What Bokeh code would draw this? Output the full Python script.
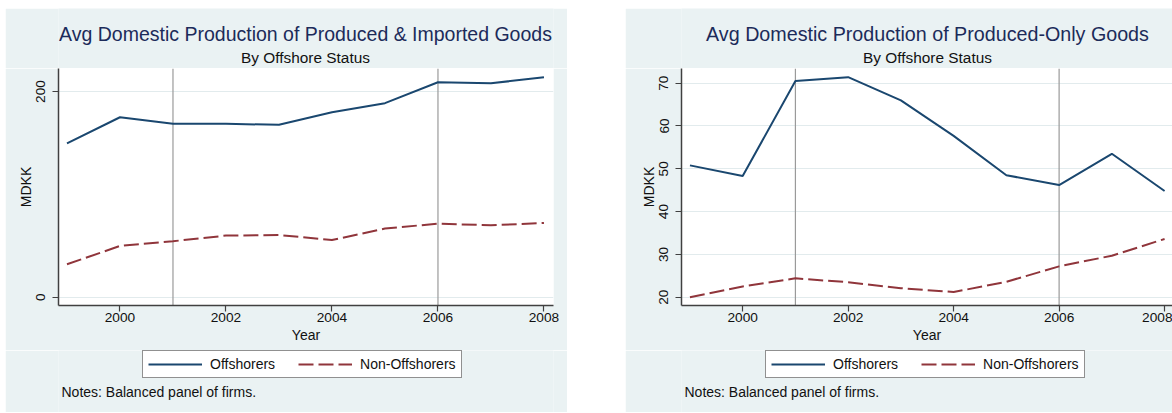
from bokeh.plotting import figure
from bokeh.models import Range1d, FixedTicker, Span, Legend, LegendItem, Label, Spacer
from bokeh.layouts import row, column
from bokeh.embed import file_html
from bokeh.resources import INLINE

# ---- data ----
years = [1999, 2000, 2001, 2002, 2003, 2004, 2005, 2006, 2007, 2008]
x_ticks = [2000, 2002, 2004, 2006, 2008]
event_years = [2001, 2006]

left_title = "Avg Domestic Production of Produced & Imported Goods"
left_off = [149.5, 175.0, 168.6, 168.6, 167.6, 179.9, 188.7, 209.0, 208.0, 213.9]
left_non = [32.0, 49.8, 54.4, 59.9, 60.5, 55.6, 66.7, 71.5, 69.9, 72.2]
left_yticks = [0, 200]

right_title = "Avg Domestic Production of Produced-Only Goods"
right_off = [50.8, 48.3, 70.5, 71.4, 66.0, 57.7, 48.5, 46.2, 53.5, 44.8]
right_non = [20.0, 22.5, 24.4, 23.5, 22.1, 21.2, 23.6, 27.2, 29.7, 33.6]
right_yticks = [20, 30, 40, 50, 60, 70]

subtitle = "By Offshore Status"
note = "Notes: Balanced panel of firms."
series_names = ["Offshorers", "Non-Offshorers"]

FONT = "Liberation Sans"
BG = "#eaf2f3"
NAVY = "#1a476f"
MAROON = "#90353b"
TITLE_C = "#1c2b5a"
AXIS_C = "#404040"
TXT = "#111111"

HEAD_H, MAIN_H, FOOT_H = 60, 282, 62


def blank(width, height):
    f = figure(width=width, height=height, output_backend="svg", toolbar_location=None,
               x_range=Range1d(0, 1), y_range=Range1d(0, 1),
               min_border=0, min_border_left=0, min_border_right=0,
               min_border_top=0, min_border_bottom=0, title=None)
    f.axis.visible = False
    f.grid.visible = False
    f.outline_line_color = None
    f.background_fill_color = BG
    f.border_fill_color = BG
    return f


def make_panel(title, off, non, yticks, xr, yr, width, left_border, right_border,
               title_x, title_size):
    # header with title and subtitle (frame aligned with the main plot frame)
    h = blank(width, HEAD_H)
    h.add_layout(Label(x=title_x, y=HEAD_H - 25.3, x_units="screen", y_units="screen", text=title,
                       text_align="center", text_baseline="middle", text_font=FONT,
                       text_font_size=title_size, text_color=TITLE_C))
    h.add_layout(Label(x=title_x, y=HEAD_H - 48.7, x_units="screen", y_units="screen", text=subtitle,
                       text_align="center", text_baseline="middle", text_font=FONT,
                       text_font_size="15.4px", text_color=TXT))

    # main plot
    p = figure(title=None, width=width, height=MAIN_H, output_backend="svg", toolbar_location=None,
               x_range=Range1d(*xr), y_range=Range1d(*yr),
               min_border_left=left_border, min_border_right=right_border,
               min_border_top=0, min_border_bottom=MAIN_H - 237)
    p.border_fill_color = BG
    p.background_fill_color = "white"
    p.outline_line_color = None

    p.xaxis.ticker = FixedTicker(ticks=x_ticks)
    p.yaxis.ticker = FixedTicker(ticks=yticks)
    for ax in (p.xaxis[0], p.yaxis[0]):
        ax.major_label_text_font = FONT
        ax.major_label_text_font_size = "13.7px"
        ax.major_label_text_color = TXT
        ax.axis_label_text_font = FONT
        ax.axis_label_text_font_size = "14px"
        ax.axis_label_text_font_style = "normal"
        ax.axis_label_text_color = TXT
        ax.major_tick_out = 6
        ax.major_tick_in = 0
        ax.minor_tick_out = 0
        ax.minor_tick_in = 0
        ax.axis_line_color = AXIS_C
        ax.axis_line_width = 1.5
        ax.major_tick_line_color = AXIS_C
        ax.major_tick_line_width = 1.2
    p.xaxis.axis_label = "Year"
    p.xaxis.major_label_standoff = 1
    p.xaxis.axis_label_standoff = 2
    p.yaxis.axis_label = "MDKK"
    p.yaxis.major_label_orientation = "vertical"
    p.yaxis.major_label_standoff = 7
    p.yaxis.axis_label_standoff = 0

    p.xgrid.visible = False
    p.ygrid.ticker = FixedTicker(ticks=yticks)
    p.ygrid.grid_line_color = "#e2ebed"
    p.ygrid.grid_line_width = 1

    for yr_ in event_years:
        p.add_layout(Span(location=yr_, dimension="height", line_color="#9a9a9a",
                          line_width=1.2, level="underlay"))

    p.line(years, off, line_color=NAVY, line_width=2)
    p.line(years, non, line_color=MAROON, line_width=2, line_dash="15 5")

    # footer with legend and note (same series, outside the footer's view range)
    f = blank(width, FOOT_H)
    k1 = f.line(years, off, line_color=NAVY, line_width=2)
    k2 = f.line(years, non, line_color=MAROON, line_width=2, line_dash="15 5")
    legend = Legend(items=[LegendItem(label=series_names[0], renderers=[k1]),
                           LegendItem(label=series_names[1], renderers=[k2])],
                    orientation="horizontal", location=(84, FOOT_H - 28), margin=0,
                    padding=5, spacing=23, glyph_width=54, glyph_height=16,
                    label_height=16, label_standoff=8,
                    label_text_font=FONT, label_text_font_size="14px",
                    label_text_color=TXT,
                    border_line_color="#222222", border_line_width=1,
                    background_fill_color="white", background_fill_alpha=1)
    f.add_layout(legend)
    f.add_layout(Label(x=3, y=FOOT_H - 41.7, x_units="screen", y_units="screen",
                       text=note, text_align="left", text_baseline="middle", text_font=FONT,
                       text_font_size="14px", text_color=TXT))
    return column(h, p, f, spacing=0)


c1 = make_panel(left_title, left_off, left_non, left_yticks,
                (1998.84, 2008.18), (-8.1, 222.4), 562, 53, 14, 247, "19.5px")
c2 = make_panel(right_title, right_off, right_non, right_yticks,
                (1998.84, 2008.15), (18.06, 73.43), 547, 56, 0, 246, "19.7px")

layout = column(Spacer(width=1172, height=8),
                row(Spacer(width=5, height=404), c1, Spacer(width=58, height=404), c2))

open("out.html", "w").write(file_html(layout, INLINE))
